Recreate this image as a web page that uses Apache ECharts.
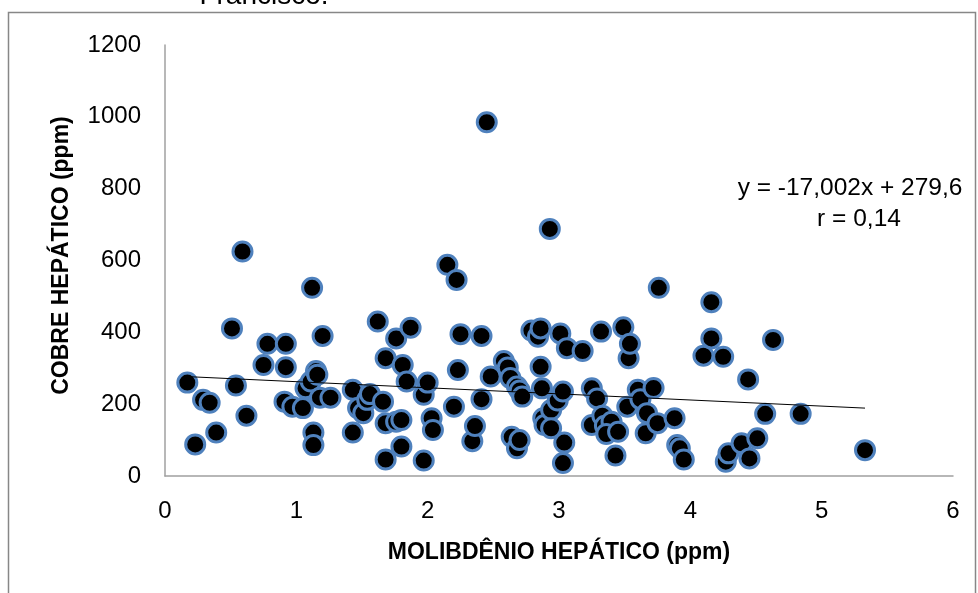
<!DOCTYPE html>
<html>
<head>
<meta charset="utf-8">
<script src="https://cdn.jsdelivr.net/npm/echarts@6/dist/echarts.min.js"></script>
<style>
html,body{margin:0;padding:0;background:#fff;}
#chart{width:978px;height:593px;}
</style>
</head>
<body>
<div id="chart"></div>
<script>
// Molibdênio hepático (ppm) - x values
const molibdenio = [
  0.17, 0.23, 0.29, 0.34, 0.39, 0.51, 0.54, 0.59, 0.62, 0.75,
  0.78, 0.91, 0.92, 0.92, 0.97, 1.05, 1.07, 1.11, 1.12, 1.13,
  1.13, 1.15, 1.16, 1.18, 1.20, 1.26, 1.43, 1.43, 1.47, 1.51,
  1.54, 1.56, 1.62, 1.66, 1.68, 1.68, 1.68, 1.76, 1.76, 1.80,
  1.80, 1.81, 1.84, 1.87, 1.97, 1.97, 2.00, 2.03, 2.04, 2.15,
  2.20, 2.22, 2.23, 2.25, 2.34, 2.36, 2.41, 2.41, 2.45, 2.48,
  2.58, 2.61, 2.63, 2.64, 2.68, 2.68, 2.70, 2.70, 2.72, 2.79,
  2.84, 2.86, 2.86, 2.87, 2.88, 2.89, 2.93, 2.94, 2.94, 2.99,
  3.01, 3.03, 3.03, 3.04, 3.06, 3.18, 3.25, 3.25, 3.29, 3.32,
  3.33, 3.35, 3.40, 3.36, 3.45, 3.43, 3.49, 3.52, 3.53, 3.54,
  3.60, 3.62, 3.67, 3.66, 3.72, 3.75, 3.76, 3.88, 3.90, 3.92,
  3.95, 4.10, 4.16, 4.16, 4.25, 4.27, 4.29, 4.39, 4.44, 4.45,
  4.51, 4.57, 4.63, 4.84, 5.33
];
// Cobre hepático (ppm) - y values
const cobre = [
  260, 88, 212, 204, 121, 411, 252, 625, 168, 309,
  368, 207, 368, 303, 193, 189, 244, 263, 524, 121,
  86, 292, 282, 218, 390, 218, 121, 240, 189, 175,
  212, 228, 430, 207, 328, 147, 46, 383, 151, 156,
  82, 309, 263, 413, 226, 43, 260, 161, 128, 588,
  193, 546, 295, 395, 97, 139, 390, 214, 985, 277,
  320, 302, 273, 109, 77, 249, 100, 238, 221, 405,
  388, 411, 304, 244, 161, 142, 688, 184, 133, 210,
  397, 235, 36, 93, 356, 348, 244, 142, 216, 402,
  168, 140, 151, 117, 123, 57, 414, 193, 328, 368,
  240, 214, 175, 119, 245, 147, 524, 161, 86, 77,
  46, 335, 484, 383, 332, 40, 63, 91, 269, 49,
  105, 173, 379, 173, 72
];
// Trendline coefficients and annotation text
const slope = -17.002;
const intercept = 279.6;
const equationText = 'y = -17,002x + 279,6';
const rText = 'r = 0,14';
const xTicks = [0, 1, 2, 3, 4, 5, 6];
const yTicks = [0, 200, 400, 600, 800, 1000, 1200];
const xTitle = 'MOLIBDÊNIO HEPÁTICO (ppm)';
const yTitle = 'COBRE HEPÁTICO (ppm)';
const pageText = 'Francisco.';

const points = molibdenio.map((x, i) => [x, cobre[i]]);
const xMin = Math.min(...molibdenio), xMax = Math.max(...molibdenio);
const trend = [[xMin, slope * xMin + intercept], [xMax, slope * xMax + intercept]];

const FONT = 'Liberation Sans';
const chart = echarts.init(document.getElementById('chart'), null, {renderer: 'canvas'});
chart.setOption({
  animation: false,
  backgroundColor: '#fff',
  grid: {left: 165, right: 25, top: 45, bottom: 117},
  xAxis: {
    type: 'value', min: xTicks[0], max: xTicks[xTicks.length - 1], interval: 1,
    axisLine: {show: true, lineStyle: {color: '#A0A0A0', width: 1.5}},
    axisTick: {show: false},
    splitLine: {show: false},
    axisLabel: {fontSize: 24, color: '#000', margin: 23, fontFamily: FONT,
                formatter: v => String(v)},
    name: xTitle, nameLocation: 'middle', nameGap: 65, nameMoveOverlap: false,
    nameTextStyle: {fontSize: 23, fontWeight: 'bold', color: '#000', fontFamily: FONT}
  },
  yAxis: {
    type: 'value', min: yTicks[0], max: yTicks[yTicks.length - 1], interval: 200,
    axisLine: {show: true, lineStyle: {color: '#A0A0A0', width: 1.5}},
    axisTick: {show: false},
    splitLine: {show: false},
    axisLabel: {fontSize: 24, color: '#000', margin: 24, fontFamily: FONT,
                formatter: v => String(v)},
    name: yTitle, nameLocation: 'middle', nameGap: 92, nameMoveOverlap: false,
    nameTextStyle: {fontSize: 23, fontWeight: 'bold', color: '#000', fontFamily: FONT,
                    padding: [0, 0, 0, 10]}
  },
  series: [
    {
      type: 'scatter', data: points, symbol: 'circle', symbolSize: 19,
      itemStyle: {color: '#000', borderColor: '#4F81BD', borderWidth: 3, opacity: 1},
      z: 2
    },
    {
      type: 'line', data: trend, symbol: 'none', silent: true,
      lineStyle: {color: '#000', width: 1}, z: 3
    }
  ],
  graphic: [
    {type: 'rect', shape: {x: 8.5, y: 12.5, width: 967, height: 620},
     style: {fill: 'none', stroke: '#878787', lineWidth: 1.5}, z: 0},
    {type: 'text', x: 264, y: 10, style: {text: pageText, font: '28px "Liberation Sans"', fill: '#000', align: 'center', verticalAlign: 'bottom'}},
    {type: 'text', x: 850, y: 188, style: {text: equationText, font: '24.5px "Liberation Sans"', fill: '#000', align: 'center', verticalAlign: 'middle'}},
    {type: 'text', x: 859, y: 219, style: {text: rText, font: '24.5px "Liberation Sans"', fill: '#000', align: 'center', verticalAlign: 'middle'}}
  ]
});
</script>
</body>
</html>
